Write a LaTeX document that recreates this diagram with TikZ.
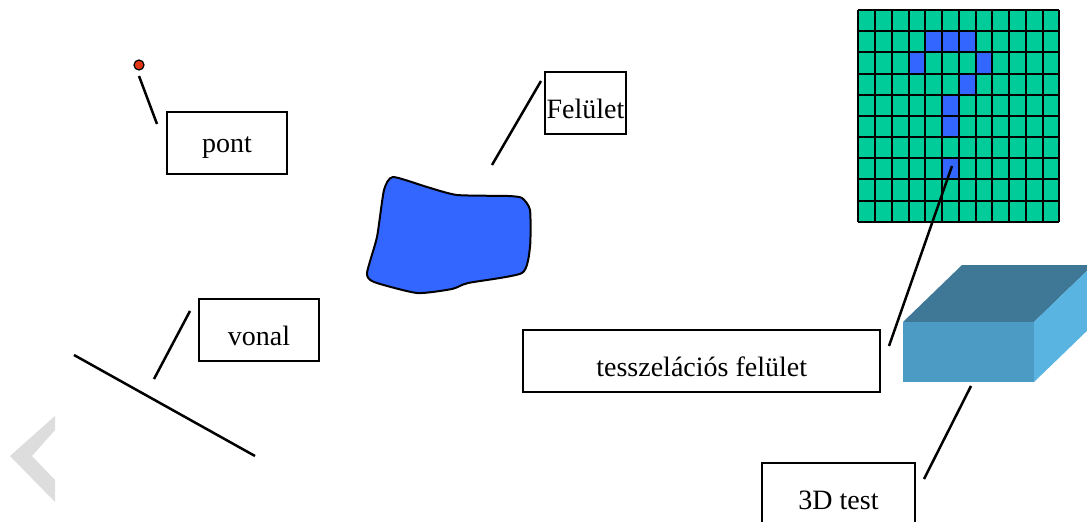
\documentclass[tikz,border=0pt]{standalone}
\usepackage{fontspec}
\setmainfont{Liberation Serif}
\definecolor{pontpiros}{RGB}{225,55,20}
\definecolor{folt}{RGB}{51,102,255}
\definecolor{racszold}{RGB}{0,204,153}
\definecolor{teto}{RGB}{62,120,150}
\definecolor{elolap}{RGB}{75,155,196}
\definecolor{oldallap}{RGB}{90,180,225}
\definecolor{szurke}{RGB}{221,221,221}
\tikzset{
  cimke/.style={draw, line width=2pt, inner sep=0pt, minimum height=62pt, text height=30pt, text depth=0pt, font=\fontsize{28}{34}\selectfont},
  vezeto/.style={line width=2.5pt},
}

\begin{document}
\begin{tikzpicture}[x=1pt,y=-1pt]
			\useasboundingbox (0,0) rectangle (1087,522);
			% szurke nyil bal oldalt
			\fill[szurke] (55,416) -- (10,456) -- (55,502) -- (55,480) -- (32,456) -- (55,430) -- cycle;
			% pont
			\node[circle, draw, fill=pontpiros, line width=1.2pt, minimum size=10pt, inner sep=0pt] (pont) at (139,65) {};
			\node[cimke, minimum width=120pt, text height=18pt] (pontdoboz) at (227,143) {pont};
			\coordinate (pontA) at (139,76);
			\coordinate (pontB) at (157,124);
			\draw[vezeto] (pontA) -- (pontB);
			% vonal
			\node[cimke, minimum width=120pt] (vonaldoboz) at (259,330) {vonal};
			\coordinate (vonalA) at (74,355);
			\coordinate (vonalB) at (255,456);
			\draw[vezeto] (vonalA) -- (vonalB);
			\coordinate (vonalC) at (190,311);
			\coordinate (vonalD) at (154,379);
			\draw[vezeto] (vonalC) -- (vonalD);
			% felulet
			\fill[folt, draw=black, line width=2pt] plot[smooth cycle, tension=0.35] coordinates {
				(393,177) (384,190) (377,237) (367,273) (374,282) (417,293) (452,289)
				(468,283) (522,273) (530,247) (530,210) (522,198) (508,196) (457,195) (427,187)};
			\node[cimke, minimum width=81pt] (feluletdoboz) at (585.5,103) {Felület};
			\coordinate (feluletA) at (541,81);
			\coordinate (feluletB) at (492,165);
			\draw[vezeto] (feluletA) -- (feluletB);
			% racs
			\begin{scope}[shift={(858.3,10)}, x=16.75pt, y=-21.17pt]
				\fill[racszold] (0,0) rectangle (12,10);
				\foreach \c/\r in {4/1,5/1,6/1,3/2,7/2,6/3,5/4,5/5,5/7}
					\fill[folt] (\c,\r) rectangle ++(1,1);
				\foreach \i in {0,...,12}
					\draw[line width=2pt] (\i,0) -- (\i,10);
				\foreach \j in {0,...,10}
					\draw[line width=2pt] (0,\j) -- (12,\j);
			\end{scope}
			\node[cimke, minimum width=357pt] (tesszdoboz) at (701.7,361) {tesszelációs felület};
			\coordinate (tesszA) at (952,166);
			\coordinate (tesszB) at (889,346);
			\draw[vezeto] (tesszA) -- (tesszB);
			% test
			\fill[teto] (903,322) -- (962,265) -- (1093,265) -- (1034,322) -- cycle;
			\fill[oldallap] (1034,322) -- (1093,265) -- (1093,325) -- (1034,382) -- cycle;
			\fill[elolap] (903,322) rectangle (1034,382);
			\node[cimke, minimum width=153pt, minimum height=63pt] (testdoboz) at (838.5,494.5) {3D test};
			\coordinate (testA) at (971,386);
			\coordinate (testB) at (924,479);
			\draw[vezeto] (testA) -- (testB);
		\end{tikzpicture}
\end{document}
